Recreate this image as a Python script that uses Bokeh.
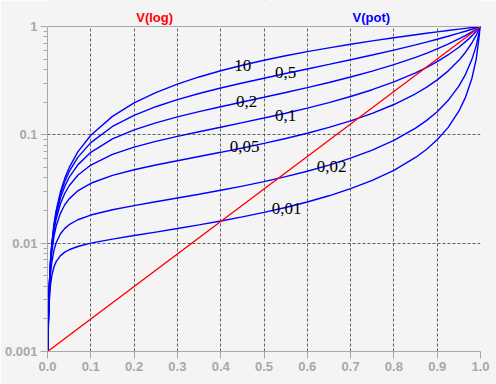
from bokeh.plotting import figure
from bokeh.models import (FixedTicker, PrintfTickFormatter, CustomJSTickFormatter, Grid,
                          ColumnDataSource, BoxAnnotation)
from bokeh.core.properties import value
from bokeh.embed import file_html
from bokeh.resources import INLINE

# wiper position (sweep)
pos = [0.001, 0.002, 0.004, 0.007, 0.01, 0.015, 0.02, 0.03, 0.04, 0.05, 0.07, 0.1, 0.15,
       0.2, 0.25, 0.3, 0.35, 0.4, 0.45, 0.5, 0.55, 0.6, 0.65, 0.7, 0.75, 0.8, 0.85, 0.875,
       0.9, 0.925, 0.95, 0.965, 0.98, 0.99, 1.0]

# V(pot) curves, one per load ratio
v_10 = [0.001, 0.002, 0.004, 0.006995, 0.00999, 0.01498, 0.01996, 0.02991, 0.03985, 0.04976,
        0.06955, 0.0991, 0.1481, 0.1969, 0.2454, 0.2938, 0.3422, 0.3906, 0.4391, 0.4878,
        0.5367, 0.5859, 0.6355, 0.6856, 0.7362, 0.7874, 0.8393, 0.8655, 0.892, 0.9186,
        0.9455, 0.9618, 0.9781, 0.989, 1.0]
v_05 = [0.000998, 0.001992, 0.003968, 0.006904, 0.009806, 0.01457, 0.01925, 0.02835, 0.03715,
        0.04566, 0.06194, 0.08475, 0.1195, 0.1515, 0.1818, 0.2113, 0.2405, 0.2703, 0.301,
        0.3333, 0.3679, 0.4054, 0.4467, 0.493, 0.5455, 0.6061, 0.6773, 0.7179, 0.7627,
        0.8123, 0.8676, 0.9039, 0.943, 0.9708, 1.0]
v_02 = [0.000995, 0.00198, 0.003922, 0.006765, 0.009528, 0.01397, 0.01821, 0.02619, 0.03356,
        0.0404, 0.05281, 0.06897, 0.0916, 0.1111, 0.129, 0.1463, 0.1637, 0.1818, 0.2011,
        0.2222, 0.2458, 0.2727, 0.3041, 0.3415, 0.3871, 0.4444, 0.5191, 0.5657, 0.6207,
        0.6868, 0.7677, 0.8256, 0.8925, 0.9433, 1.0]
v_01 = [0.00099, 0.001961, 0.003847, 0.006545, 0.009099, 0.01307, 0.01672, 0.02324, 0.0289,
        0.0339, 0.0424, 0.05263, 0.06593, 0.07692, 0.08696, 0.09677, 0.1069, 0.1176, 0.1295,
        0.1429, 0.1583, 0.1765, 0.1985, 0.2258, 0.2609, 0.3077, 0.3736, 0.4179, 0.4737,
        0.5461, 0.6441, 0.7214, 0.8194, 0.9009, 1.0]
v_005 = [0.00098, 0.001923, 0.003705, 0.006146, 0.008347, 0.01158, 0.01437, 0.01896, 0.02262,
         0.02564, 0.03041, 0.03571, 0.04225, 0.04762, 0.05263, 0.05769, 0.06306, 0.06897, 0.07563,
         0.08333, 0.09244, 0.1034, 0.1171, 0.1346, 0.1579, 0.1905, 0.2394, 0.2745, 0.3214,
         0.3874, 0.4872, 0.5759, 0.704, 0.8264, 1.0]
v_002 = [0.000952, 0.001819, 0.003336, 0.005195, 0.006689, 0.008627, 0.0101, 0.01222, 0.0137,
         0.01481, 0.01645, 0.01818, 0.02034, 0.02222, 0.0241, 0.02609, 0.02828, 0.03077, 0.03364,
         0.03704, 0.04112, 0.04615, 0.05253, 0.06087, 0.07229, 0.08889, 0.1153, 0.1353, 0.1636,
         0.207, 0.2815, 0.3589, 0.4949, 0.6622, 1.0]
v_001 = [0.000909, 0.001667, 0.00286, 0.00413, 0.005025, 0.006054, 0.006757, 0.007673, 0.008264,
         0.008696, 0.009321, 0.01, 0.01091, 0.01176, 0.01266, 0.01364, 0.01474, 0.016, 0.01748,
         0.01923, 0.02136, 0.024, 0.02737, 0.03182, 0.03797, 0.04706, 0.06182, 0.0733, 0.09,
         0.1165, 0.1652, 0.2204, 0.3311, 0.4975, 1.0]

# ideal logarithmic law V(log)
log_x = [0.0, 0.5, 1.0]
log_y = [0.001, 0.03162, 1.0]

curve_names = ["10", "0,5", "0,2", "0,1", "0,05", "0,02", "0,01"]
curves = [v_10, v_05, v_02, v_01, v_005, v_002, v_001]
# label anchor points (data coords, text centre)
label_x = [0.451, 0.550, 0.460, 0.550, 0.455, 0.656, 0.552]
label_y = [0.4365, 0.376, 0.2031, 0.1509, 0.078, 0.051, 0.0209]

trace_names = ["V(log)", "V(pot)"]
trace_colors = ["#ff0000", "#0000ff"]
trace_x = [0.2475, 0.748]
trace_y = [1.218, 1.218]

x_ticks = [0.0, 0.1, 0.2, 0.3, 0.4, 0.5, 0.6, 0.7, 0.8, 0.9, 1.0]
y_ticks = [0.001, 0.01, 0.1, 1.0]
y_minor = [m * d for d in (0.001, 0.01, 0.1) for m in range(2, 10)]

BG = "#f4f4f4"
AX = "#a8a8a8"

# frame reaches the top of the canvas; plotted area is 0.001..1, the band above holds the trace names
p = figure(width=496, height=384, y_axis_type="log", x_range=(0, 1), y_range=(0.001, 10 ** 0.24),
           output_backend="svg", toolbar_location=None,
           min_border_left=47, min_border_right=16, min_border_top=0, min_border_bottom=33)
p.title.visible = False
p.background_fill_color = BG
p.border_fill_color = BG
p.outline_line_color = None

for ax in (p.xaxis[0], p.yaxis[0]):
    ax.axis_line_color = AX
    ax.major_tick_line_color = AX
    ax.minor_tick_line_color = AX
    ax.major_tick_out = 7
    ax.major_tick_in = 0
    ax.minor_tick_in = 0
    ax.major_label_text_color = AX
    ax.major_label_text_font = "Liberation Sans"
    ax.major_label_text_font_style = "bold"
    ax.major_label_text_font_size = "13px"
    ax.major_label_standoff = 3

p.xaxis.ticker = FixedTicker(ticks=x_ticks)
p.xaxis.formatter = PrintfTickFormatter(format="%.1f")
p.xaxis.minor_tick_line_color = None
p.yaxis.ticker = FixedTicker(ticks=y_ticks, minor_ticks=y_minor)
p.yaxis.formatter = CustomJSTickFormatter(code="return String(tick);")
p.yaxis.minor_tick_out = 4
p.yaxis.bounds = (0.001, 1.0)

p.xgrid.ticker = FixedTicker(ticks=x_ticks[1:-1])
p.ygrid.ticker = FixedTicker(ticks=y_ticks[1:-1])
for g in (p.xgrid[0], p.ygrid[0]):
    g.grid_line_color = "#606060"
    g.grid_line_dash = "3 2"
    g.grid_line_width = 1

# right edge of the plot box
right_edge = Grid(dimension=0, ticker=FixedTicker(ticks=[1.0]), grid_line_color=AX, grid_line_width=1)
p.add_layout(right_edge)

# blank band above the plot box (hides grid lines there)
band = BoxAnnotation(bottom=1.0, fill_color=BG, fill_alpha=1.0, line_color=None, level="annotation")
p.add_layout(band)

# top edge of the plot box, drawn over the band
top_edge = Grid(dimension=1, ticker=FixedTicker(ticks=[1.0]), grid_line_color=AX, grid_line_width=1,
                level="overlay")
p.add_layout(top_edge)

for ys in curves:
    p.line(pos, ys, line_color="#0000ff", line_width=1.4)
p.line(log_x, log_y, line_color="#ff0000", line_width=1.4)

src = ColumnDataSource(dict(x=label_x, y=label_y, t=curve_names))
p.text(x="x", y="y", text="t", source=src, text_font=value("Liberation Serif"),
       text_font_size="17px", text_color="#000000", text_align="center",
       text_baseline="middle", level="overlay")

tsrc = ColumnDataSource(dict(x=trace_x, y=trace_y, t=trace_names, c=trace_colors))
p.text(x="x", y="y", text="t", color="c", source=tsrc, text_font=value("Liberation Sans"),
       text_font_style="bold", text_font_size="13px", text_align="center",
       text_baseline="middle", level="overlay")

open("out.html", "w").write(file_html(p, INLINE))
